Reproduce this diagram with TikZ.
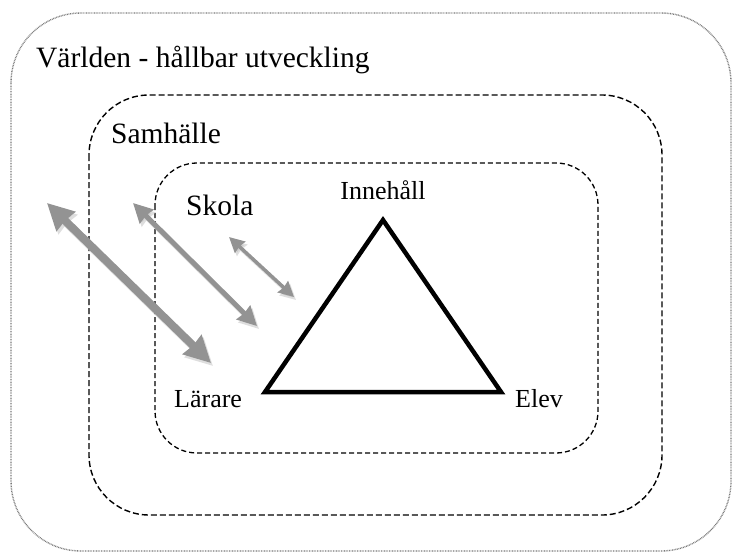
\documentclass[tikz,border=0pt]{standalone}
\usepackage{fontspec}
\setmainfont{Liberation Serif}
\usetikzlibrary{arrows.meta}
\definecolor{ink}{HTML}{000000}
\definecolor{frame}{HTML}{7A7A7A}
\definecolor{pil}{HTML}{939393}
\definecolor{shade}{HTML}{BDBDBD}
\tikzset{
  world/.style={draw=frame, line width=1.4pt, dash pattern=on 0.8pt off 0.8pt, rounded corners=70pt},
  society/.style={draw=ink, line width=1.4pt, dash pattern=on 6pt off 3pt, rounded corners=60pt},
  school/.style={draw=ink, line width=1.3pt, dash pattern=on 5pt off 3pt, rounded corners=42pt},
  tri/.style={draw=ink, line width=4.5pt},
  lbl/.style={inner sep=0pt, font=\fontsize{29.5}{34}\selectfont},
  vlbl/.style={inner sep=0pt, font=\fontsize{26}{30}\selectfont}
}
\newcommand{\TwoWay}[4]{% from,to,line width,head size
  \draw[line width=#3, draw=shade, opacity=0.5, transform canvas={shift={(2pt,-3pt)}},
    {Stealth[length=#4,width=#4,inset=1pt]}-{Stealth[length=#4,width=#4,inset=1pt]}] (#1) -- (#2);
  \draw[line width=#3, draw=pil,
    {Stealth[length=#4,width=#4,inset=1pt]}-{Stealth[length=#4,width=#4,inset=1pt]}] (#1) -- (#2);
}

\begin{document}
\begin{tikzpicture}[x=1pt, y=-1pt]
  \useasboundingbox (0,0) rectangle (734,552);
  % nested frames
  \draw[world]   (11,13) rectangle (731,551);
  \draw[society] (89,95) rectangle (662,515);
  \draw[school]  (155,163) rectangle (598,453);
  \node[lbl, anchor=base west] (varld) at (36,67) {Världen - hållbar utveckling};
  \node[lbl, anchor=base west] (samh) at (111,143) {Samhälle};
  \node[lbl, anchor=base west] (skola) at (186,215) {Skola};

  % didactic triangle
  \coordinate (top) at (383,220);
  \coordinate (bl) at (265,392);
  \coordinate (br) at (501,392);
  \draw[tri] (top) -- (br) -- (bl) -- cycle;
  \node[vlbl, anchor=base] (inneh) at (383,199) {Innehåll};
  \node[vlbl, anchor=base west] (larare) at (174,407) {Lärare};
  \node[vlbl, anchor=base west] (elev) at (515,407) {Elev};

  % two-way arrows
  \coordinate (a1) at (47,203);  \coordinate (b1) at (211,363);
  \coordinate (a2) at (133,203); \coordinate (b2) at (257,326);
  \coordinate (a3) at (229,237); \coordinate (b3) at (294,297);
  \TwoWay{a1}{b1}{8pt}{26pt}
  \TwoWay{a2}{b2}{5pt}{19pt}
  \TwoWay{a3}{b3}{3.5pt}{15pt}
\end{tikzpicture}
\end{document}
